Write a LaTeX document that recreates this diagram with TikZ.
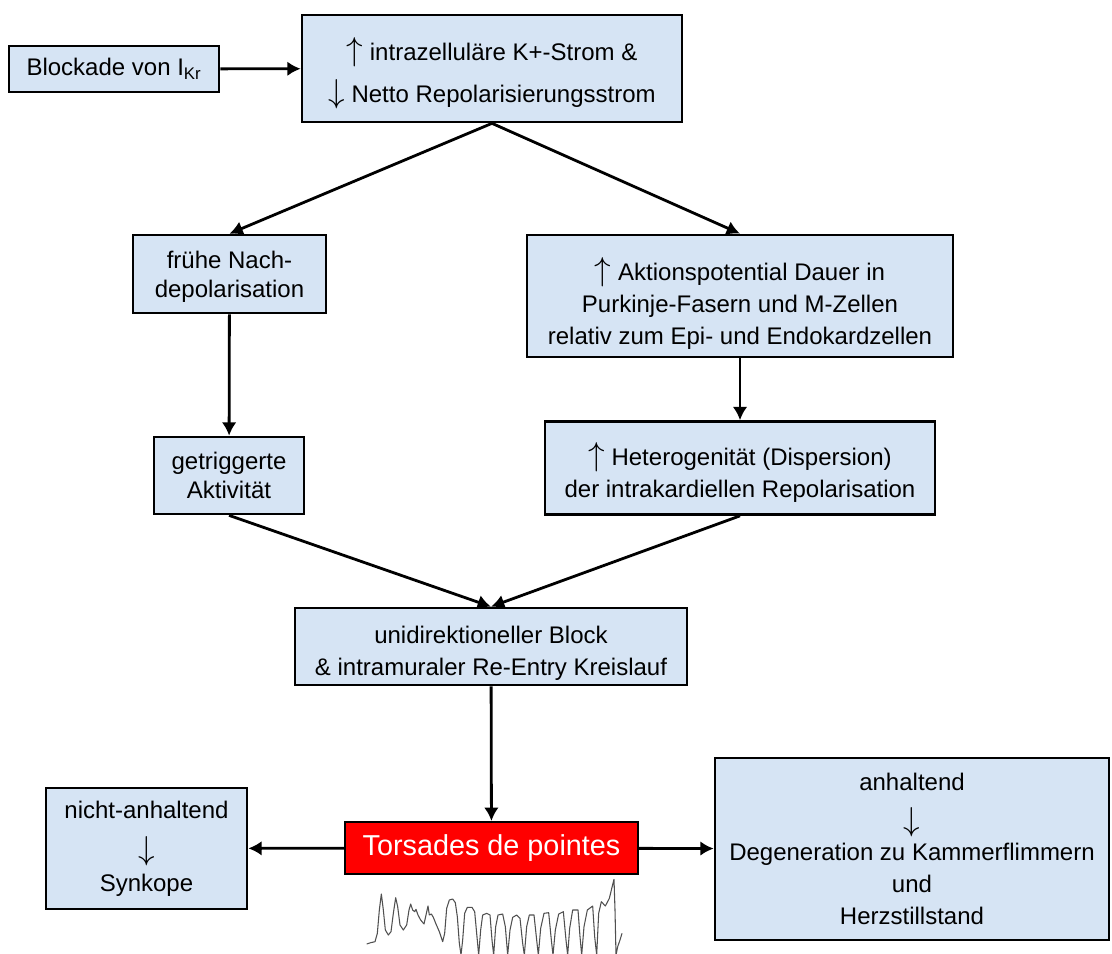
\documentclass[tikz,border=0pt]{standalone}
\usepackage{fontspec}
\setmainfont{Liberation Sans}
\usepackage{tikz}
\usetikzlibrary{arrows.meta}
\definecolor{boxColor}{RGB}{214,228,244}
\definecolor{alarmColor}{RGB}{255,0,0}
\definecolor{traceColor}{RGB}{80,80,80}
\newcommand{\pfeilauf}{{\fontsize{25}{25}\selectfont$\uparrow$}}
\newcommand{\pfeilab}{{\fontsize{25}{25}\selectfont$\downarrow$}}
\newcommand{\oben}[1]{\rule{0pt}{#1}}

\begin{document}
\begin{tikzpicture}[x=0.75pt,y=-0.75pt]

          \tikzstyle{normalNode} = [draw=black, line width=2pt, fill=boxColor, align=center, inner sep=0pt, font=\fontsize{18}{24}\selectfont];
          \tikzstyle{alarmNode} = [draw=black, line width=1.6pt, fill=alarmColor, text=white, inner sep=0pt, font=\fontsize{21.6}{24}\selectfont];

          \tikzstyle{normalEdge} = [line width=2.1pt, -{Latex[length=10pt,width=11pt]}];
          \tikzstyle{traceLine} = [traceColor, line width=0.8pt, line join=round];

          \useasboundingbox (0,0) rectangle (1112,953);

          \node[normalNode, minimum width=157.5pt, minimum height=34.5pt] (blockade) at (114,69) {Blockade von I\textsubscript{Kr}};
          \node[normalNode, minimum width=285pt, minimum height=80.25pt] (strom) at (492,68.5) {\oben{24.4pt}\pfeilauf{} intrazelluläre K+-Strom \&\\[7.5pt] \pfeilab{} Netto Repolarisierungsstrom};
          \node[normalNode, minimum width=144.75pt, minimum height=58.5pt] (frueh) at (229.5,274) {\oben{16.8pt}frühe Nach-\\[-2pt]depolarisation};
          \node[normalNode, minimum width=319.5pt, minimum height=91.5pt] (aktion) at (740,296) {\oben{27.8pt}\pfeilauf{} Aktionspotential Dauer in\\Purkinje-Fasern und M-Zellen\\relativ zum Epi- und Endokardzellen};
          \node[normalNode, minimum width=112.5pt, minimum height=57.75pt] (getrig) at (229,475.5) {getriggerte\\[-2pt]Aktivität};
          \node[normalNode, minimum width=292.5pt, minimum height=69.75pt] (hetero) at (740,468) {\oben{24pt}\pfeilauf{} Heterogenität (Dispersion)\\der intrakardiellen Repolarisation};
          \node[normalNode, minimum width=294pt, minimum height=57.75pt] (reentry) at (491,646.5) {\oben{22.6pt}unidirektioneller Block\\\& intramuraler Re-Entry Kreislauf};
          \node[alarmNode, minimum width=219.75pt, minimum height=39pt] (torsades) at (491.5,848) {Torsades de pointes};
          \node[normalNode, minimum width=150.75pt, minimum height=90.75pt] (synkope) at (146.5,848.5) {nicht-anhaltend\\[7pt]\pfeilab\\Synkope};
          \node[normalNode, minimum width=295.5pt, minimum height=136.5pt] (herz) at (912,849) {anhaltend\\[6pt]\pfeilab\\[-1.5pt]Degeneration zu Kammerflimmern\\und\\Herzstillstand};

          \draw[normalEdge] (blockade) -- (strom);
          \draw[normalEdge] (strom.south) -- (frueh.north);
          \draw[normalEdge] (strom.south) -- (aktion.north);
          \draw[normalEdge] (frueh) -- (getrig);
          \draw[normalEdge] (aktion) -- (hetero);
          \draw[normalEdge] (getrig.south) -- (reentry.north);
          \draw[normalEdge] (hetero.south) -- (reentry.north);
          \draw[normalEdge] (reentry) -- (torsades);
          \draw[normalEdge] (torsades) -- (synkope);
          \draw[normalEdge] (torsades) -- (herz);

          % ECG trace under the Torsades box
          \begin{scope}[xshift=247.5pt, yshift=-600pt, x=0.25pt, y=-0.25pt]
            \clip (0,0) rectangle (1000,459);
            \draw[traceLine] (110,432) -- (122,428) -- (135,425) -- (142,400) -- (148,330) -- (154,282) -- (160,330) -- (166,390) -- (175,405) -- (183,395) -- (190,340) -- (197,293) -- (203,320) -- (210,375) -- (220,390) -- (230,375) -- (237,330) -- (242,312) -- (248,330) -- (254,335) -- (258,328) -- (264,345) -- (272,360) -- (282,372) -- (288,345) -- (294,318) -- (298,345) -- (304,342) -- (310,352) -- (318,372) -- (328,395) -- (338,425) -- (344,400) -- (350,325) -- (358,300) -- (368,297) -- (376,308) -- (382,350) -- (388,430) -- (393,465)
              -- (398,420) -- (404,340) -- (412,322) -- (426,322) -- (434,335) -- (440,400) -- (446,465) -- (452,390) -- (458,345) -- (470,340) -- (480,345) -- (486,420) -- (491,465) -- (497,380) -- (504,345) -- (518,342) -- (526,380) -- (533,465) -- (540,390) -- (548,352) -- (560,345) -- (570,355) -- (578,430) -- (583,465) -- (590,380) -- (598,345) -- (612,345) -- (620,420) -- (625,465) -- (632,385) -- (642,340) -- (656,338) -- (664,420) -- (669,465) -- (676,390) -- (686,342) -- (700,335) -- (708,420) -- (713,465) -- (719,385) -- (728,330) -- (744,330) -- (750,410) -- (755,465) -- (762,380) -- (772,330) -- (788,318) -- (794,410) -- (800,465) -- (806,340) -- (814,305) -- (826,318) -- (838,295) -- (846,262) -- (852,238) -- (855,330) -- (858,465) -- (863,440) -- (870,420) -- (876,400);
          \end{scope}
        \end{tikzpicture}
\end{document}
